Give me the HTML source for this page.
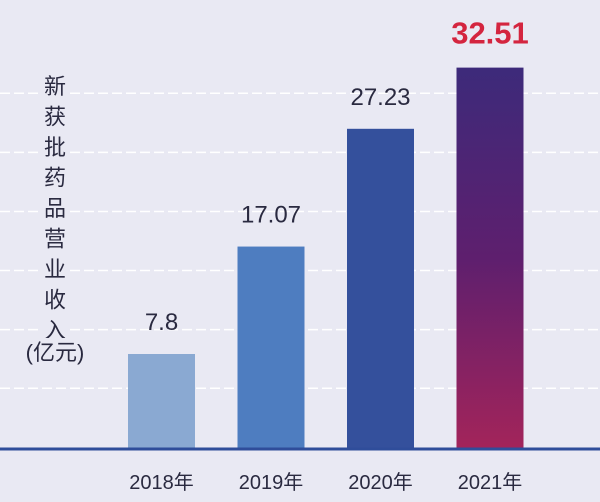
<!DOCTYPE html>
<html><head><meta charset="utf-8"><style>
html,body{margin:0;padding:0;background:#e9e9f3;}
svg{display:block;font-family:"Liberation Sans","Noto Sans CJK SC",sans-serif;}
</style></head><body>
<svg width="600" height="502" viewBox="0 0 600 502">
<defs>
<linearGradient id="g21" x1="0" y1="0" x2="0" y2="1">
<stop offset="0" stop-color="#3d2a7a"/><stop offset="0.5" stop-color="#5e1f6e"/><stop offset="1" stop-color="#a3245a"/>
</linearGradient>
</defs>
<rect width="600" height="502" fill="#e9e9f3"/>
<g id="grid"></g>
<g id="ytitle"></g>
<g id="bars"></g>
<line x1="0" y1="449" x2="600" y2="449" stroke="#2f4d9a" stroke-width="3"/>
<g id="labels"></g>
</svg>
<script>
const categories=["2018年","2019年","2020年","2021年"];
const values=[7.8,17.07,27.23,32.51];
const valueLabels=["7.8","17.07","27.23","32.51"];
const gridValues=[4.85,9.9,15.0,20.1,25.2,30.3];
const NS="http://www.w3.org/2000/svg";
const axisY=449, zeroY=444.4, pxPerUnit=11.59;
const yScale=v=>zeroY-v*pxPerUnit;
const xc=i=>161.5+i*109.5;
const colors=["#8aa9d2","#4e7dc0","#34509c","url(#g21)"];
function mk(t,a,p){const e=document.createElementNS(NS,t);for(const k in a)e.setAttribute(k,a[k]);p.appendChild(e);return e;}
const grid=document.getElementById('grid');
gridValues.forEach(v=>{
 const l=mk('line',{x1:0,x2:600,y1:yScale(v),y2:yScale(v),stroke:'#ffffff','stroke-width':1.5,'stroke-dasharray':'10 4'},grid);
 
 
});
const bars=document.getElementById('bars'),labels=document.getElementById('labels');
values.forEach((v,i)=>{
 const r=mk('rect',{x:xc(i)-33.5,y:yScale(v),width:67,height:axisY-yScale(v),fill:colors[i]},bars);
 
 
 const last=i===values.length-1;
 const t=mk('text',{x:xc(i),y:last?yScale(v)-24:yScale(v)-24,'text-anchor':'middle','font-size':last?31:24,'font-weight':last?'bold':'normal',fill:last?'#d4253f':'#2a2a40'},labels);
 t.textContent=valueLabels[i];
 
 
 const c=mk('text',{x:xc(i),y:489,'text-anchor':'middle','font-size':20,fill:'#2a2a40'},labels);
 c.textContent=categories[i];
 
 
});
const yt=document.getElementById('ytitle');
const chars="新获批药品营业收入";
for(let i=0;i<chars.length;i++){
 mk('rect',{x:42,y:71+i*30.5,width:26,height:27,fill:'#e9e9f3'},yt);
 const t=mk('text',{x:55,y:94+i*30.5,'text-anchor':'middle','font-size':22,fill:'#2a2a40'},yt);
 t.textContent=chars[i];
}
mk('rect',{x:12,y:338,width:84,height:28,fill:'#e9e9f3'},yt);
const u=mk('text',{x:55,y:360,'text-anchor':'middle','font-size':22,fill:'#2a2a40'},yt);
u.textContent="(亿元)";
</script>
</body></html>
